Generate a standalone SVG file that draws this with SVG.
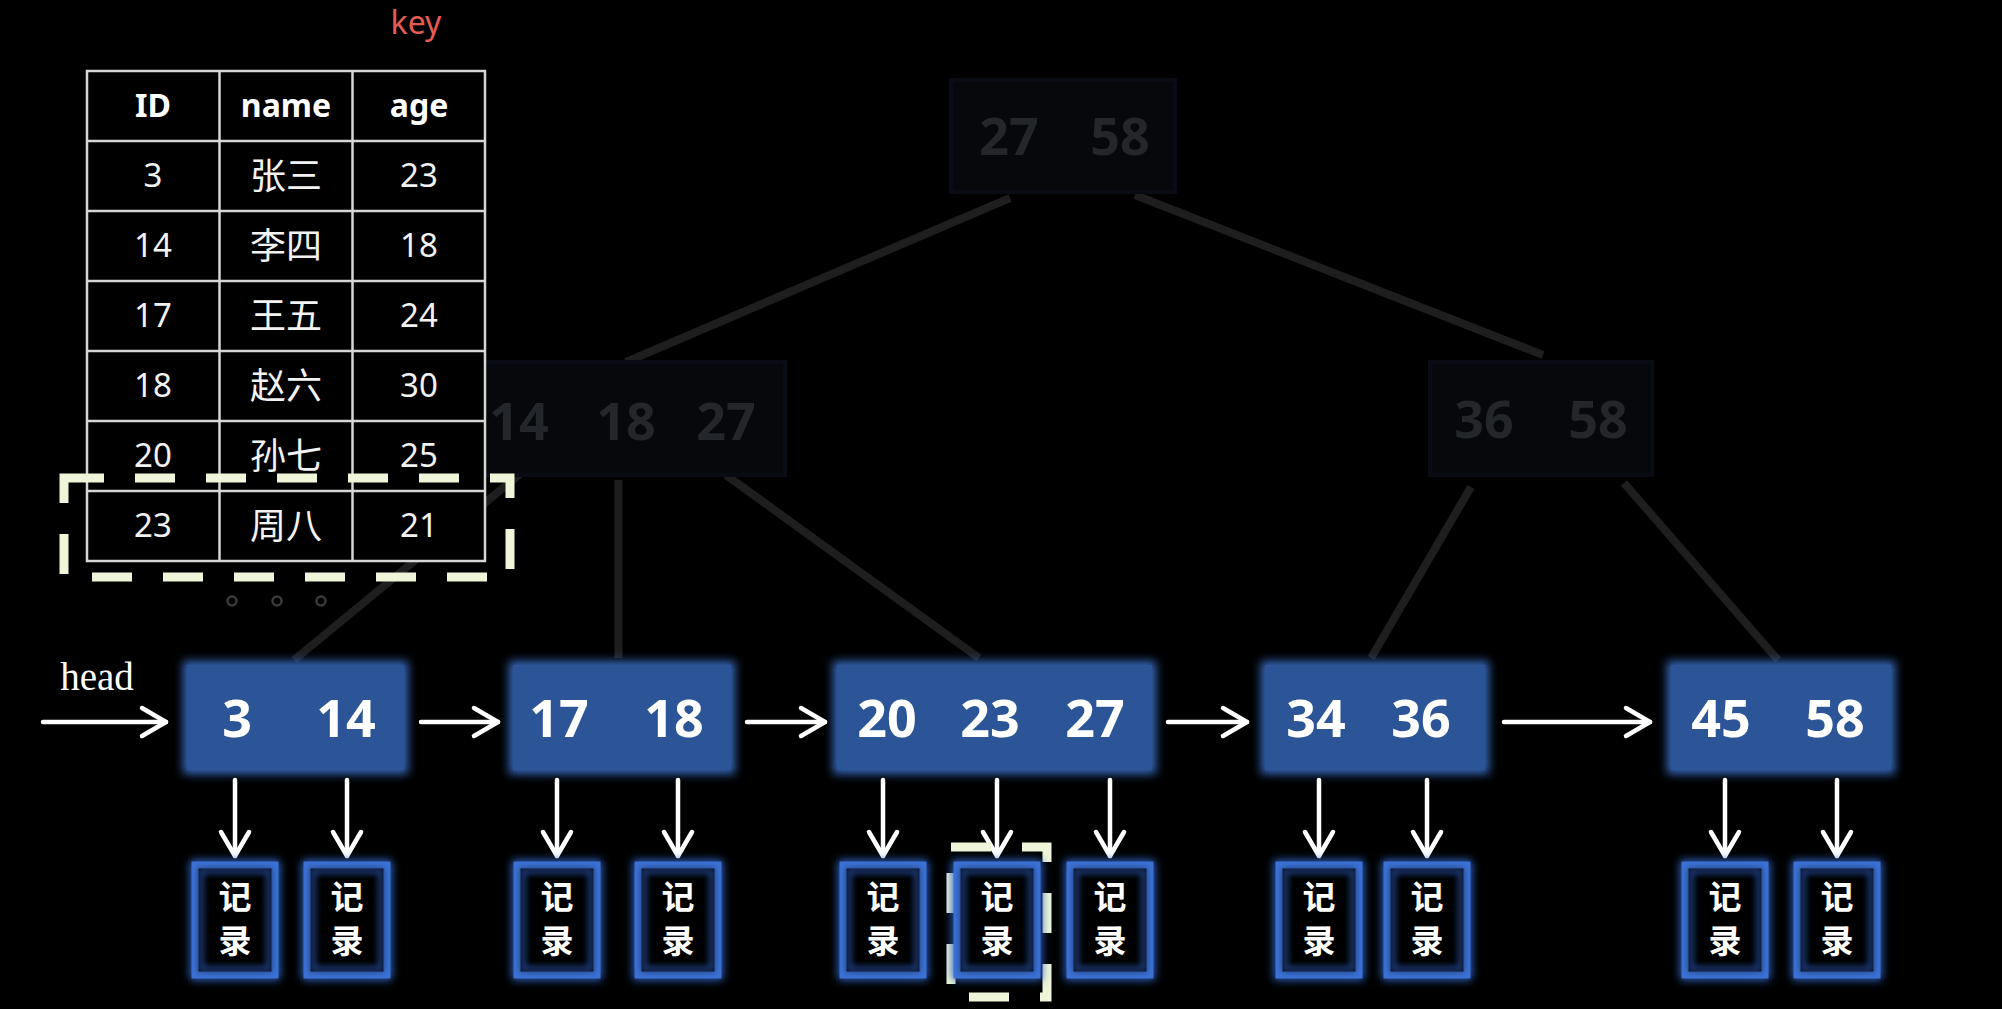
<svg xmlns="http://www.w3.org/2000/svg" width="2002" height="1009" viewBox="0 0 2002 1009">
<defs>
<style>
.bg{fill:#000}
.conn{stroke:#1e1e1e;stroke-width:8;fill:none}
.unode{fill:#06080c;stroke:#090c12;stroke-width:4}
.utext{font-family:"Noto Sans","DejaVu Sans",sans-serif;font-weight:bold;font-size:52px;fill:#23262b;text-anchor:middle}
.leaf{fill:#2c5597}
.leafglow{fill:#3566b8;filter:url(#blur5)}
.ltext{font-family:"Noto Sans","DejaVu Sans",sans-serif;font-weight:bold;font-size:52px;fill:#ffffff;text-anchor:middle}
.rec{fill:#000;stroke:#3d72d6;stroke-width:7}
.recglow{fill:none;stroke:#2f63c4;stroke-width:10;filter:url(#blur4)}
.recin{fill:none;stroke:#1d3a78;stroke-width:6;filter:url(#blur3)}
.rtext{font-family:"Noto Sans CJK SC","Noto Sans",sans-serif;font-weight:bold;font-size:33px;fill:#ffffff;text-anchor:middle}
.arrow{stroke:#ffffff;stroke-width:4.5;fill:none;stroke-linecap:round;marker-end:url(#chev)}
.tline{stroke:#d6d6d6;stroke-width:2.5;fill:none}
.th{font-family:"Noto Sans","DejaVu Sans",sans-serif;font-weight:bold;font-size:32px;fill:#ffffff;text-anchor:middle}
.td{font-family:"Noto Sans","DejaVu Sans",sans-serif;font-size:33px;fill:#f2f2f2;text-anchor:middle}
.tc{font-family:"Noto Sans CJK SC","Noto Sans",sans-serif;font-size:36px;fill:#f2f2f2;text-anchor:middle}
.dash{fill:none;stroke:#eef5d8;stroke-width:9;stroke-dasharray:40 31}
</style>
<filter id="blur5" x="-20%" y="-20%" width="140%" height="140%"><feGaussianBlur stdDeviation="5"/></filter>
<filter id="blur4" x="-30%" y="-30%" width="160%" height="160%"><feGaussianBlur stdDeviation="4"/></filter>
<filter id="blur3" x="-30%" y="-30%" width="160%" height="160%"><feGaussianBlur stdDeviation="3"/></filter>
<marker id="chev" viewBox="-30 -18 34 36" refX="0" refY="0" markerWidth="34" markerHeight="36" markerUnits="userSpaceOnUse" orient="auto">
<path d="M-24,-14 L0,0 L-24,14" fill="none" stroke="#ffffff" stroke-width="4.5" stroke-linecap="round" stroke-linejoin="round"/>
</marker>
</defs>
<rect class="bg" x="0" y="0" width="2002" height="1009"/>

<g id="connectors">
<line class="conn" x1="1010" y1="198" x2="626" y2="362"/>
<line class="conn" x1="1135" y1="195" x2="1543" y2="355"/>
<line class="conn" x1="520" y1="474" x2="294" y2="660"/>
<line class="conn" x1="618.5" y1="480" x2="618.5" y2="658"/>
<line class="conn" x1="726" y1="475" x2="979" y2="658"/>
<line class="conn" x1="1471" y1="487" x2="1371" y2="658"/>
<line class="conn" x1="1624" y1="483" x2="1778" y2="660"/>
</g>

<g id="node-root">
<rect class="unode" x="951" y="80" width="224" height="112"/>
<text class="utext" x="1009" y="155">27</text>
<text class="utext" x="1120" y="155">58</text>
</g>
<g id="node-mid-left">
<rect class="unode" x="469" y="362" width="316" height="113"/>
<text class="utext" x="519" y="440">14</text>
<text class="utext" x="626" y="440">18</text>
<text class="utext" x="726" y="440">27</text>
</g>
<g id="node-mid-right">
<rect class="unode" x="1430" y="362" width="222" height="113"/>
<text class="utext" x="1484" y="438">36</text>
<text class="utext" x="1598" y="438">58</text>
</g>

<g id="table">
<rect x="87" y="71" width="398" height="490" fill="#000"/>
<rect class="tline" x="87" y="71" width="398" height="490"/>
<line class="tline" x1="219.5" y1="71" x2="219.5" y2="561"/>
<line class="tline" x1="352.5" y1="71" x2="352.5" y2="561"/>
<line class="tline" x1="87" y1="141" x2="485" y2="141"/>
<line class="tline" x1="87" y1="211" x2="485" y2="211"/>
<line class="tline" x1="87" y1="281" x2="485" y2="281"/>
<line class="tline" x1="87" y1="351" x2="485" y2="351"/>
<line class="tline" x1="87" y1="421" x2="485" y2="421"/>
<line class="tline" x1="87" y1="491" x2="485" y2="491"/>
<text class="th" x="153" y="117">ID</text>
<text class="th" x="286" y="117">name</text>
<text class="th" x="419" y="117">age</text>
<text class="td" x="153" y="187">3</text><text class="tc" x="286" y="189">张三</text><text class="td" x="419" y="187">23</text>
<text class="td" x="153" y="257">14</text><text class="tc" x="286" y="259">李四</text><text class="td" x="419" y="257">18</text>
<text class="td" x="153" y="327">17</text><text class="tc" x="286" y="329">王五</text><text class="td" x="419" y="327">24</text>
<text class="td" x="153" y="397">18</text><text class="tc" x="286" y="399">赵六</text><text class="td" x="419" y="397">30</text>
<text class="td" x="153" y="467">20</text><text class="tc" x="286" y="469">孙七</text><text class="td" x="419" y="467">25</text>
<text class="td" x="153" y="537">23</text><text class="tc" x="286" y="539">周八</text><text class="td" x="419" y="537">21</text>
</g>
<text id="key-label" x="416" y="34" font-family="Noto Sans, DejaVu Sans, sans-serif" font-size="32" fill="#e35d55" text-anchor="middle">key</text>
<path id="row-highlight" class="dash" d="M64,478 H510 V577 H64 Z"/>
<g id="ellipsis" fill="none" stroke="#3a3a3a" stroke-width="2.5">
<circle cx="232" cy="601" r="4.5"/><circle cx="277" cy="601" r="4.5"/><circle cx="321" cy="601" r="4.5"/>
</g>

<text id="head-label" x="97" y="690" font-family="Liberation Serif, serif" font-size="39" fill="#ffffff" text-anchor="middle">head</text>

<g id="leaf1">
<rect class="leafglow" x="183" y="661" width="225" height="113"/>
<rect class="leaf" x="187" y="665" width="217" height="105"/>
<text class="ltext" x="237" y="737">3</text><text class="ltext" x="346" y="737">14</text>
</g>
<g id="leaf2">
<rect class="leafglow" x="509" y="661" width="226" height="113"/>
<rect class="leaf" x="513" y="665" width="218" height="105"/>
<text class="ltext" x="559" y="737">17</text><text class="ltext" x="674" y="737">18</text>
</g>
<g id="leaf3">
<rect class="leafglow" x="833" y="661" width="323" height="113"/>
<rect class="leaf" x="837" y="665" width="315" height="105"/>
<text class="ltext" x="887" y="737">20</text><text class="ltext" x="990" y="737">23</text><text class="ltext" x="1095" y="737">27</text>
</g>
<g id="leaf4">
<rect class="leafglow" x="1261" y="661" width="228" height="113"/>
<rect class="leaf" x="1265" y="665" width="220" height="105"/>
<text class="ltext" x="1316" y="737">34</text><text class="ltext" x="1421" y="737">36</text>
</g>
<g id="leaf5">
<rect class="leafglow" x="1667" y="661" width="228" height="113"/>
<rect class="leaf" x="1671" y="665" width="220" height="105"/>
<text class="ltext" x="1721" y="737">45</text><text class="ltext" x="1835" y="737">58</text>
</g>

<g id="arrows">
<path class="arrow" d="M43,722 H166"/>
<path class="arrow" d="M421,722 H498"/>
<path class="arrow" d="M747,722 H825"/>
<path class="arrow" d="M1168,722 H1247"/>
<path class="arrow" d="M1504,722 H1650"/>
<path class="arrow" d="M235,780 V856"/>
<path class="arrow" d="M347,780 V856"/>
<path class="arrow" d="M557,780 V856"/>
<path class="arrow" d="M678,780 V856"/>
<path class="arrow" d="M883,780 V856"/>
<path class="arrow" d="M997,780 V856"/>
<path class="arrow" d="M1110,780 V856"/>
<path class="arrow" d="M1319,780 V856"/>
<path class="arrow" d="M1427,780 V856"/>
<path class="arrow" d="M1725,780 V856"/>
<path class="arrow" d="M1837,780 V856"/>
</g>

<path id="record-highlight" class="dash" d="M951,847 H1047 V997 H951 Z"/>

<g id="records">
<g id="rec-3"><rect class="recglow" x="195" y="865" width="80" height="110"/><rect class="rec" x="195" y="865" width="80" height="110"/><rect class="recin" x="201" y="871" width="68" height="98"/><text class="rtext" x="235" y="909">记</text><text class="rtext" x="235" y="953">录</text></g>
<g id="rec-14"><rect class="recglow" x="307" y="865" width="80" height="110"/><rect class="rec" x="307" y="865" width="80" height="110"/><rect class="recin" x="313" y="871" width="68" height="98"/><text class="rtext" x="347" y="909">记</text><text class="rtext" x="347" y="953">录</text></g>
<g id="rec-17"><rect class="recglow" x="517" y="865" width="80" height="110"/><rect class="rec" x="517" y="865" width="80" height="110"/><rect class="recin" x="523" y="871" width="68" height="98"/><text class="rtext" x="557" y="909">记</text><text class="rtext" x="557" y="953">录</text></g>
<g id="rec-18"><rect class="recglow" x="638" y="865" width="80" height="110"/><rect class="rec" x="638" y="865" width="80" height="110"/><rect class="recin" x="644" y="871" width="68" height="98"/><text class="rtext" x="678" y="909">记</text><text class="rtext" x="678" y="953">录</text></g>
<g id="rec-20"><rect class="recglow" x="843" y="865" width="80" height="110"/><rect class="rec" x="843" y="865" width="80" height="110"/><rect class="recin" x="849" y="871" width="68" height="98"/><text class="rtext" x="883" y="909">记</text><text class="rtext" x="883" y="953">录</text></g>
<g id="rec-23"><rect class="recglow" x="957" y="865" width="80" height="110"/><rect class="rec" x="957" y="865" width="80" height="110"/><rect class="recin" x="963" y="871" width="68" height="98"/><text class="rtext" x="997" y="909">记</text><text class="rtext" x="997" y="953">录</text></g>
<g id="rec-27"><rect class="recglow" x="1070" y="865" width="80" height="110"/><rect class="rec" x="1070" y="865" width="80" height="110"/><rect class="recin" x="1076" y="871" width="68" height="98"/><text class="rtext" x="1110" y="909">记</text><text class="rtext" x="1110" y="953">录</text></g>
<g id="rec-34"><rect class="recglow" x="1279" y="865" width="80" height="110"/><rect class="rec" x="1279" y="865" width="80" height="110"/><rect class="recin" x="1285" y="871" width="68" height="98"/><text class="rtext" x="1319" y="909">记</text><text class="rtext" x="1319" y="953">录</text></g>
<g id="rec-36"><rect class="recglow" x="1387" y="865" width="80" height="110"/><rect class="rec" x="1387" y="865" width="80" height="110"/><rect class="recin" x="1393" y="871" width="68" height="98"/><text class="rtext" x="1427" y="909">记</text><text class="rtext" x="1427" y="953">录</text></g>
<g id="rec-45"><rect class="recglow" x="1685" y="865" width="80" height="110"/><rect class="rec" x="1685" y="865" width="80" height="110"/><rect class="recin" x="1691" y="871" width="68" height="98"/><text class="rtext" x="1725" y="909">记</text><text class="rtext" x="1725" y="953">录</text></g>
<g id="rec-58"><rect class="recglow" x="1797" y="865" width="80" height="110"/><rect class="rec" x="1797" y="865" width="80" height="110"/><rect class="recin" x="1803" y="871" width="68" height="98"/><text class="rtext" x="1837" y="909">记</text><text class="rtext" x="1837" y="953">录</text></g>
</g>
</svg>
